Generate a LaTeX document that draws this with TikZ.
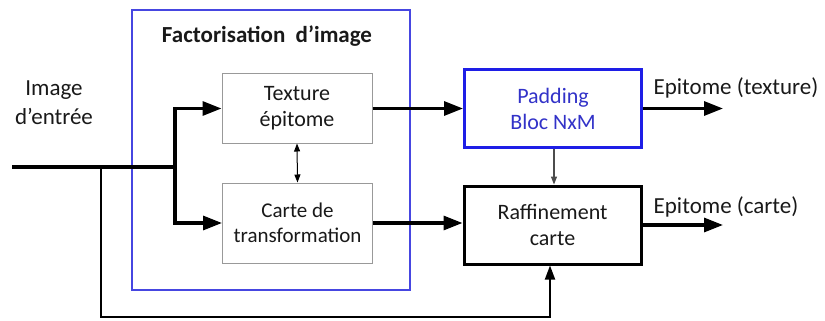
\documentclass[tikz,border=0pt]{standalone}
\usepackage{fontspec}
\setmainfont{Carlito}
\usetikzlibrary{arrows.meta}
\definecolor{frameblue}{RGB}{70,70,225}
\definecolor{padblue}{RGB}{30,30,230}
\definecolor{padtext}{RGB}{50,50,200}
\definecolor{txt}{RGB}{25,25,25}
\tikzset{smalltip/.tip={Triangle[length=8pt,width=6pt]}}
\begin{document}
\begin{tikzpicture}[x=1pt,y=-1pt,
  every node/.style={font=\fontsize{22}{26}\selectfont, text=txt, align=center, inner sep=0pt},
  graybox/.style={draw=gray!80, line width=1pt, minimum width=150pt, fill=white},
  thickbox/.style={line width=3pt, minimum width=177pt, minimum height=78pt},
  bigarrow/.style={line width=3.2pt, -{Triangle[length=19pt,width=14pt]}}]
\useasboundingbox (0,0) rectangle (825,321);
% frame
\node[draw=frameblue, line width=2pt, minimum width=278pt, minimum height=280pt] (frame) at (271,150) {};
\node[font=\fontsize{23}{27}\selectfont\bfseries] (title) at (267,36) {Factorisation\ \ d’image};
% boxes
\node[graybox, minimum height=69pt] (tex) at (297,108.5) {Texture\\épitome};
\node[graybox, minimum height=80pt, font=\fontsize{21}{25.5}\selectfont] (carte) at (297.5,223) {Carte de\\transformation};
\node[thickbox, draw=padblue, text=padtext] (pad) at (553,108.5) {Padding\\Bloc NxM};
\node[thickbox, draw=black] (raf) at (552.5,225) {Raffinement\\carte};
% labels
\node[font=\fontsize{23}{29}\selectfont] (in) at (54,103) {Image\\d’entrée};
\node[font=\fontsize{23}{27}\selectfont] (lt) at (736,88) {Epitome (texture)};
\node[font=\fontsize{23}{27}\selectfont] (lc) at (726,207) {Epitome (carte)};
% coordinates
\coordinate (start) at (12,167);
\coordinate (split) at (101,167);
\coordinate (branch) at (175,167);
\coordinate (bot) at (550,317);
\coordinate (out1) at (723,108.5);
\coordinate (out2) at (723,225);
% input
\draw[line width=3.2pt] (start) -- (branch);
\draw[bigarrow] (branch) |- (tex.west);
\draw[bigarrow] (branch) |- (carte.west);
% internal
\draw[line width=1pt, smalltip-smalltip] (tex.south) -- (carte.north);
\draw[bigarrow] (tex.east) -- (pad.west);
\draw[bigarrow] (carte.east) -- (carte.east -| raf.west);
\draw[line width=1.2pt, draw=gray!60!black, -smalltip] (pad.south -| 554,0) -- (raf.north -| 554,0);
% feedback
\draw[line width=1.8pt, -{Triangle[length=14pt,width=10pt]}] (split) |- (bot) -- (bot |- raf.south);
% outputs
\draw[bigarrow] (pad.east) -- (out1);
\draw[bigarrow] (raf.east) -- (out2);
\end{tikzpicture}
\end{document}
